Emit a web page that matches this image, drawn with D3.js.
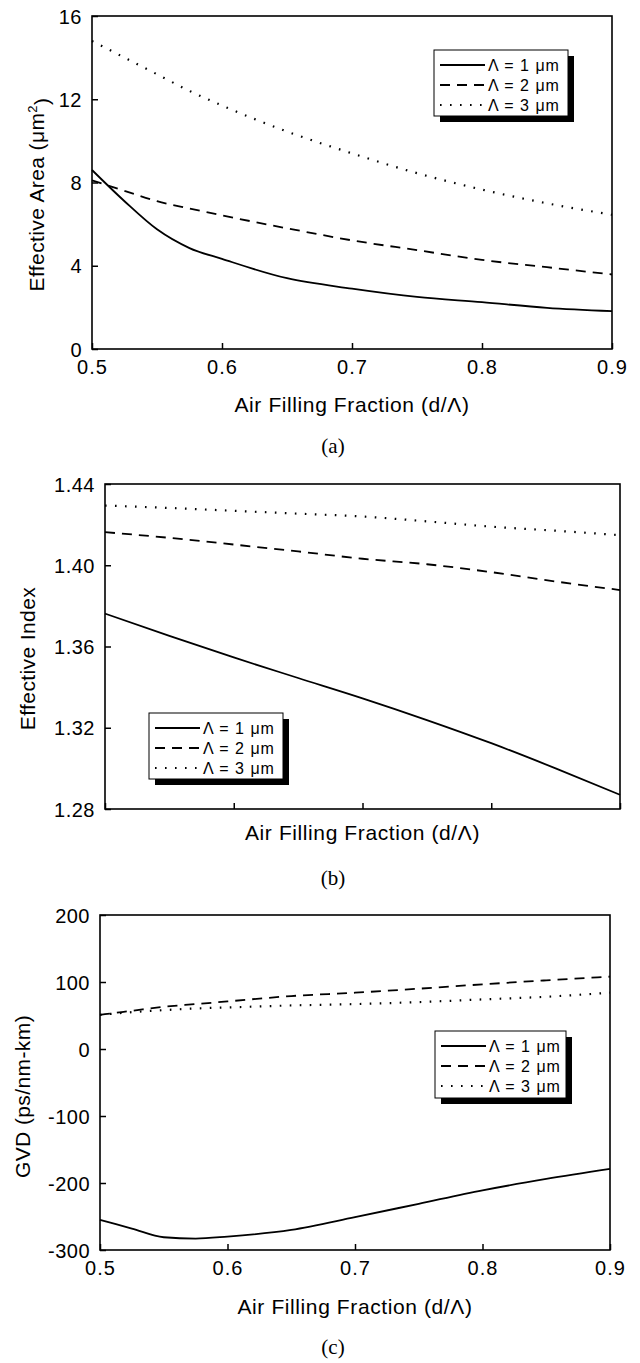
<!DOCTYPE html>
<html>
<head>
<meta charset="utf-8">
<script src="https://cdn.jsdelivr.net/npm/d3@7"></script>
<style>
  html, body { margin: 0; padding: 0; background: #fff; }
  svg { display: block; }
  text { font-family: "Liberation Sans", Arial, sans-serif; fill: #000; }
</style>
</head>
<body>
<svg id="chart" width="640" height="1363"></svg>
<script>
// ---------- DATA ----------
const xTickValues = [0.5, 0.6, 0.7, 0.8, 0.9];
const legendLabels = ["\u039B = 1 \u03BCm", "\u039B = 2 \u03BCm", "\u039B = 3 \u03BCm"];
const captions = ["(a)", "(b)", "(c)"];
const xTitle = "Air Filling Fraction (d/\u039B)";

// (a) Effective area
const areaX  = [0.5, 0.525, 0.55, 0.575, 0.6, 0.65, 0.7, 0.75, 0.8, 0.85, 0.9];
const areaL1 = [8.6, 7.1, 5.75, 4.85, 4.33, 3.4, 2.9, 2.5, 2.25, 1.98, 1.82];
const areaL2 = [8.1, 7.6, 7.1, 6.75, 6.42, 5.8, 5.22, 4.75, 4.28, 3.93, 3.58];
const areaL3 = [14.8, 14.0, 13.2, 12.4, 11.7, 10.45, 9.4, 8.45, 7.66, 7.0, 6.45];
const areaTicks = [0, 4, 8, 12, 16];

// (b) Effective index
const indexX  = [0.5, 0.55, 0.6, 0.65, 0.7, 0.75, 0.8, 0.85, 0.9];
const indexL1 = [1.3762, 1.3652, 1.3546, 1.3445, 1.3345, 1.3238, 1.3124, 1.300, 1.287];
const indexL2 = [1.4163, 1.4135, 1.4102, 1.4068, 1.4032, 1.4005, 1.3966, 1.392, 1.3878];
const indexL3 = [1.4294, 1.4282, 1.4268, 1.4254, 1.4240, 1.4216, 1.4190, 1.4170, 1.4148];
const indexTicks = [1.28, 1.32, 1.36, 1.40, 1.44];

// (c) GVD
const gvdX  = [0.5, 0.525, 0.55, 0.575, 0.6, 0.65, 0.7, 0.75, 0.8, 0.85, 0.9];
const gvdL1 = [-255, -268, -281, -283, -280, -270, -251, -231, -211, -194, -179];
const gvdL2 = [51, 57, 63, 67, 71, 79, 84, 90, 96.5, 102.5, 108];
const gvdL3 = [51, 55, 58, 60.5, 62, 65, 67, 70, 74, 78, 84];
const gvdTicks = [-300, -200, -100, 0, 100, 200];

// ---------- STYLE ----------
const styles = [
  { dash: null, width: 1.8 },
  { dash: "10,7", width: 1.8 },
  { dash: "1.6,8.4", width: 2.2 }
];

const intHyphen = d => String(Math.round(d)).replace("\u2212", "-");

const panels = [
  { x: areaX, series: [areaL1, areaL2, areaL3], yDomain: [0, 16], yTicks: areaTicks,
    fmt: intHyphen, box: { l: 92, r: 612, t: 16, b: 349 }, xLabels: true,
    xTitleY: 405, captionY: 446, yTitleX: 37, yTitleDy: 12,
    yTitle: "area", legend: { x: 434, y: 50, w: 134, h: 66 } },
  { x: indexX, series: [indexL1, indexL2, indexL3], yDomain: [1.28, 1.44], yTicks: indexTicks,
    fmt: d3.format(".2f"), box: { l: 105, r: 620, t: 484, b: 809 }, xLabels: false,
    xTitleY: 833, captionY: 878, yTitleX: 28, yTitleDy: 12,
    yTitle: "Effective Index", legend: { x: 149, y: 713, w: 134, h: 66 } },
  { x: gvdX, series: [gvdL1, gvdL2, gvdL3], yDomain: [-300, 200], yTicks: gvdTicks,
    fmt: intHyphen, box: { l: 100, r: 610, t: 915, b: 1250 }, xLabels: true,
    xTitleY: 1307, captionY: 1347, yTitleX: 23, yTitleDy: 14,
    yTitle: "GVD (ps/nm-km)", legend: { x: 435, y: 1031, w: 131, h: 67 } }
];

const svg = d3.select("#chart");

panels.forEach((p, pi) => {
  const g = svg.append("g");
  const x = d3.scaleLinear().domain([0.5, 0.9]).range([p.box.l, p.box.r]);
  const y = d3.scaleLinear().domain(p.yDomain).range([p.box.b, p.box.t]);

  // curves
  const line = d3.line().x(d => x(d[0])).y(d => y(d[1])).curve(d3.curveMonotoneX);
  p.series.forEach((s, si) => {
    const pts = p.x.map((xv, i) => [xv, s[i]]);
    const st = styles[si];
    g.append("path").attr("d", line(pts))
      .attr("fill", "none").attr("stroke", "#000")
      .attr("stroke-width", st.width)
      .attr("stroke-dasharray", st.dash);
  });

  // axes (ticks inward)
  const bottomAxis = d3.axisBottom(x).tickValues(xTickValues).tickSizeInner(-6).tickSizeOuter(0)
    .tickFormat(p.xLabels ? d3.format(".1f") : () => "");
  const ga = g.append("g").attr("transform", `translate(0,${p.box.b})`).call(bottomAxis);
  ga.select(".domain").remove();
  ga.selectAll(".tick line").attr("stroke-width", 1.5);
  ga.selectAll(".tick text").attr("y", 18).attr("dy", "0.35em")
    .style("font-size", "20px").style("letter-spacing", "1px")
    .style("font-family", '"Liberation Sans", Arial, sans-serif');

  const leftAxis = d3.axisLeft(y).tickValues(p.yTicks).tickSizeInner(-6).tickSizeOuter(0)
    .tickFormat(p.fmt);
  const gl = g.append("g").attr("transform", `translate(${p.box.l},0)`).call(leftAxis);
  gl.select(".domain").remove();
  gl.selectAll(".tick line").attr("stroke-width", 1.5);
  gl.selectAll(".tick text").attr("x", -10).attr("dy", "0.35em")
    .style("font-size", "20px").style("letter-spacing", "0.5px")
    .style("font-family", '"Liberation Sans", Arial, sans-serif');

  // frame
  g.append("rect").attr("x", p.box.l).attr("y", p.box.t)
    .attr("width", p.box.r - p.box.l).attr("height", p.box.b - p.box.t)
    .attr("fill", "none").attr("stroke", "#000").attr("stroke-width", 1.6);

  // x title
  g.append("text").attr("x", (p.box.l + p.box.r) / 2).attr("y", p.xTitleY)
    .attr("text-anchor", "middle").attr("dy", "0.35em")
    .style("font-size", "21px").style("letter-spacing", "0.6px")
    .text(xTitle);

  // y title
  const cy = (p.box.t + p.box.b) / 2 + p.yTitleDy;
  const yt = g.append("text")
    .attr("transform", `translate(${p.yTitleX},${cy}) rotate(-90)`)
    .attr("text-anchor", "middle").attr("dy", "0.35em")
    .style("font-size", "21px").style("letter-spacing", "0.4px");
  if (p.yTitle === "area") {
    yt.append("tspan").text("Effective Area (\u03BCm");
    yt.append("tspan").attr("dy", "-0.55em").style("font-size", "13px").text("2");
    yt.append("tspan").attr("dy", "0.55em").text(")");
  } else {
    yt.text(p.yTitle);
  }

  // caption
  g.append("text").attr("x", 333).attr("y", p.captionY)
    .attr("text-anchor", "middle").attr("dy", "0.35em")
    .style("font-family", '"Liberation Serif", "Times New Roman", serif')
    .style("font-size", "21px")
    .text(captions[pi]);

  // legend
  const L = p.legend;
  const lg = g.append("g").attr("transform", `translate(${L.x},${L.y})`);
  lg.append("rect").attr("x", 6).attr("y", 6).attr("width", L.w).attr("height", L.h).attr("fill", "#000");
  lg.append("rect").attr("x", 0).attr("y", 0).attr("width", L.w).attr("height", L.h)
    .attr("fill", "#fff").attr("stroke", "#000").attr("stroke-width", 1);
  const rows = [15, 35, 55];
  legendLabels.forEach((lab, i) => {
    const st = styles[i];
    lg.append("line").attr("x1", 6).attr("x2", 51).attr("y1", rows[i]).attr("y2", rows[i])
      .attr("stroke", "#000").attr("stroke-width", st.width)
      .attr("stroke-dasharray", st.dash);
    lg.append("text").attr("x", 54).attr("y", rows[i]).attr("dy", "0.35em")
      .style("font-size", "16px").style("letter-spacing", "1px")
      .text(lab);
  });
});
</script>
</body>
</html>
